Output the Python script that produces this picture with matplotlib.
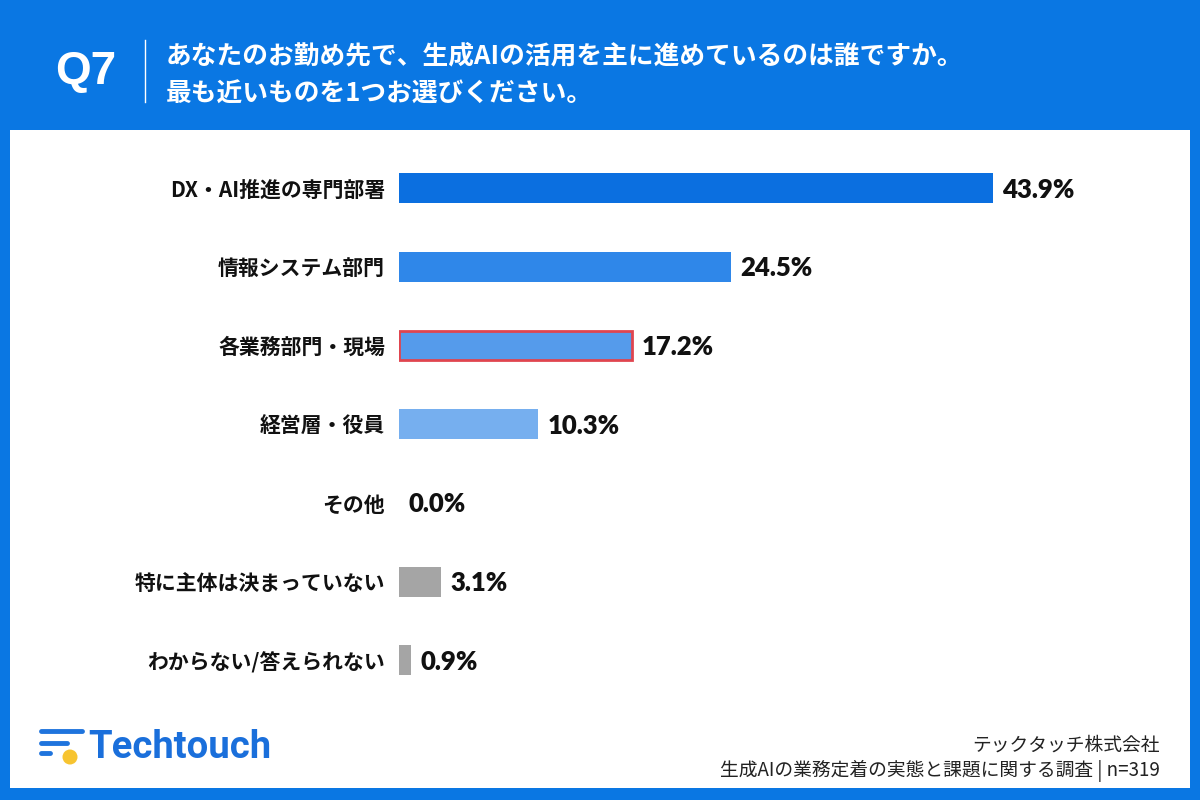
import matplotlib.pyplot as plt
from matplotlib.patches import Rectangle, Ellipse
from matplotlib.lines import Line2D

plt.rcParams['font.family'] = ['Noto Sans CJK JP', 'DejaVu Sans']

# --- データ ---
categories = [
    "DX・AI推進の専門部署",
    "情報システム部門",
    "各業務部門・現場",
    "経営層・役員",
    "その他",
    "特に主体は決まっていない",
    "わからない/答えられない",
]
values = [43.9, 24.5, 17.2, 10.3, 0.0, 3.1, 0.9]
bar_colors = ["#0B6FE0", "#2F87E9", "#559BEB", "#76AFEF", "#A5A5A5", "#A5A5A5", "#A5A5A5"]
highlight = "各業務部門・現場"

title_q = "Q7"
title_lines = ["あなたのお勤め先で、生成AIの活用を主に進めているのは誰ですか。",
               "最も近いものを1つお選びください。"]
company = "テックタッチ株式会社"
survey = "生成AIの業務定着の実態と課題に関する調査 | n=319"

BLUE = "#0A77E3"
W, H = 1200, 800

fig = plt.figure(figsize=(12, 8), dpi=100)
fig.patch.set_facecolor(BLUE)

# 白パネル (軸より後ろに)
fig.patches.append(Rectangle((10 / W, 12 / H), 1180 / W, (788 - 130) / H,
                             transform=fig.transFigure, facecolor="white",
                             edgecolor="none", zorder=-1))

# --- ヘッダー ---
fig.text(86 / W, 1 - 72 / H, title_q, color="white", fontsize=33, fontweight="bold",
         ha="center", va="center", family=["Liberation Sans", "DejaVu Sans"])
fig.add_artist(Line2D([145 / W, 145 / W], [1 - 40 / H, 1 - 102 / H],
                      transform=fig.transFigure, color="white", lw=1))
fig.text(166 / W, 1 - 56 / H, title_lines[0], color="white", fontsize=18.5,
         fontweight="bold", ha="left", va="center")
fig.text(166 / W, 1 - 94 / H, title_lines[1], color="white", fontsize=18.5,
         fontweight="bold", ha="left", va="center")

# --- 棒グラフ ---
px_per_pct = (993 - 399) / 43.9
ax_w = 700
ax_top, ax_bot = 148.7, 699.7
ax = fig.add_axes([399 / W, 1 - ax_bot / H, ax_w / W, (ax_bot - ax_top) / H])
ax.set_facecolor("none")

y = list(range(len(categories)))
bars = ax.barh(y, values, height=0.38, color=bar_colors, zorder=2)
for b, cat in zip(bars, categories):
    if cat == highlight:
        b.set_edgecolor("#E0454F")
        b.set_linewidth(2)

ax.set_xlim(0, ax_w / px_per_pct)
ax.set_ylim(len(categories) - 0.5, -0.5)

for yi, v in zip(y, values):
    ax.text(v + 0.7, yi + 0.02, f"{v:.1f}%", va="center", ha="left",
            fontsize=18.5, fontweight="heavy", color="#111111",
            family=["Lato", "DejaVu Sans"])

ax.set_yticks(y)
ax.set_yticklabels(categories, fontsize=15, fontweight="bold", color="#111111")
ax.tick_params(axis="y", length=0, pad=10)
ax.set_xticks([])
for s in ax.spines.values():
    s.set_visible(False)

# --- フッター ---
# ロゴアイコン
for (x0, x1, yy) in [(41, 82, 731), (41, 67, 743), (41, 50, 753)]:
    fig.add_artist(Line2D([x0 / W, x1 / W], [1 - yy / H, 1 - yy / H],
                          transform=fig.transFigure, color="#1F74DD", lw=3.5,
                          solid_capstyle="round"))
fig.patches.append(Ellipse((70 / W, 1 - 757 / H), 15 / W, 15 / H,
                           transform=fig.transFigure,
                           facecolor="#F7C430", edgecolor="none"))
fig.text(88 / W, 1 - 747 / H, "Techtouch", color="#1A6FDB", fontsize=27.5,
         fontweight="bold", ha="left", va="center", family=["Roboto", "DejaVu Sans"])

fig.text(1160 / W, 1 - 745 / H, company, color="#222222", fontsize=13.5,
         ha="right", va="center")
fig.text(1160 / W, 1 - 771 / H, survey, color="#222222", fontsize=13.5,
         ha="right", va="center")

fig.savefig("out.png", dpi=100, facecolor=fig.get_facecolor())
